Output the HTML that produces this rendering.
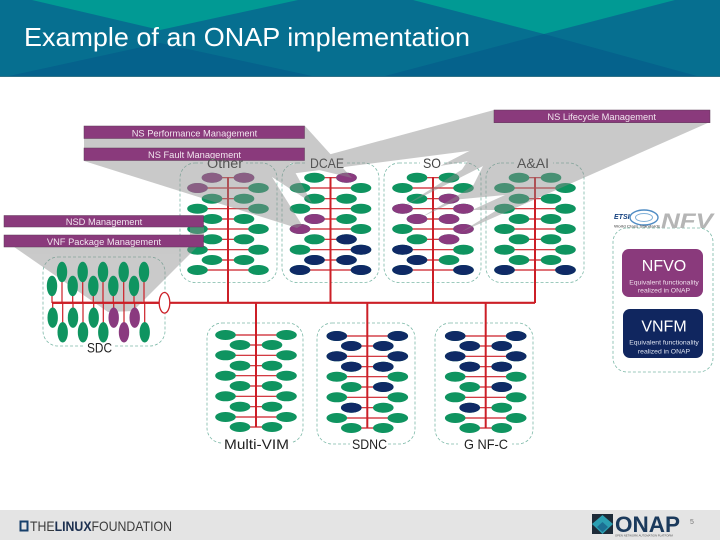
<!DOCTYPE html>
<html><head><meta charset="utf-8"><style>
html,body{margin:0;padding:0;background:#fff}
svg{display:block;font-family:"Liberation Sans",sans-serif}
</style></head><body>
<svg width="720" height="540" viewBox="0 0 720 540" xmlns="http://www.w3.org/2000/svg">
<defs>
<ellipse id="g" rx="10.3" ry="5" fill="#0f9460"/>
<ellipse id="p" rx="10.3" ry="5" fill="#8a3a7f"/>
<ellipse id="n" rx="10.3" ry="5" fill="#0f2a66"/>
<ellipse id="vg" rx="5.2" ry="10.2" fill="#0f9460"/>
<ellipse id="vp" rx="5.2" ry="10.2" fill="#8a3a7f"/>
<g id="top">
<path d="M-16 177.7H16M-30 188H30M-16 198.7H16M-30 208.7H30M-16 219H16M-30 229H30M-16 239.3H16M-30 249.7H30M-16 260H16M-30 270H30" stroke="#cc1f27" stroke-width="1.2" fill="none"/>
<path d="M0 177V303" stroke="#cc1f27" stroke-width="2" fill="none"/>
<use href="#g" x="-16" y="177.7"/><use href="#g" x="16" y="177.7"/>
<use href="#g" x="-30.5" y="188"/><use href="#g" x="30.5" y="188"/>
<use href="#g" x="-16" y="198.7"/><use href="#g" x="16" y="198.7"/>
<use href="#g" x="-30.5" y="208.7"/><use href="#g" x="30.5" y="208.7"/>
<use href="#g" x="-16" y="219"/><use href="#g" x="16" y="219"/>
<use href="#g" x="-30.5" y="229"/><use href="#g" x="30.5" y="229"/>
<use href="#g" x="-16" y="239.3"/><use href="#g" x="16" y="239.3"/>
<use href="#g" x="-30.5" y="249.7"/><use href="#g" x="30.5" y="249.7"/>
<use href="#g" x="-16" y="260"/><use href="#g" x="16" y="260"/>
<use href="#g" x="-30.5" y="270"/><use href="#g" x="30.5" y="270"/>
</g>
<g id="bot">
<path d="M-30 336H30M-16 346H16M-30 356.3H30M-16 366.7H16M-30 376.7H30M-16 387H16M-30 397.3H30M-16 407.7H16M-30 418H30M-16 428H16" stroke="#cc1f27" stroke-width="1.2" fill="none"/>
<path d="M0 303V428" stroke="#cc1f27" stroke-width="2" fill="none"/>
<use href="#g" x="-30.5" y="336"/><use href="#g" x="30.5" y="336"/>
<use href="#g" x="-16" y="346"/><use href="#g" x="16" y="346"/>
<use href="#g" x="-30.5" y="356.3"/><use href="#g" x="30.5" y="356.3"/>
<use href="#g" x="-16" y="366.7"/><use href="#g" x="16" y="366.7"/>
<use href="#g" x="-30.5" y="376.7"/><use href="#g" x="30.5" y="376.7"/>
<use href="#g" x="-16" y="387"/><use href="#g" x="16" y="387"/>
<use href="#g" x="-30.5" y="397.3"/><use href="#g" x="30.5" y="397.3"/>
<use href="#g" x="-16" y="407.7"/><use href="#g" x="16" y="407.7"/>
<use href="#g" x="-30.5" y="418"/><use href="#g" x="30.5" y="418"/>
<use href="#g" x="-16" y="428"/><use href="#g" x="16" y="428"/>
</g>
</defs>

<rect width="720" height="540" fill="#fff"/>

<!-- header -->
<rect width="720" height="77" fill="#066f90"/>
<polygon points="32,0 298,0 160,30" fill="#019a94"/>
<polygon points="413,0 675,0 544,34" fill="#019a94"/>
<polygon points="9,76 312,76 160,43" fill="#05628c"/>
<polygon points="385,76 697,76 544,34" fill="#05628c"/>
<rect y="76" width="720" height="1" fill="#2f7288"/>
<text x="24" y="46" font-size="26" fill="#fff" textLength="446" lengthAdjust="spacingAndGlyphs">Example of an ONAP implementation</text>

<!-- dashed boxes -->
<g fill="none" stroke="#7db9a8" stroke-width=".8" stroke-dasharray="3 2">
<rect x="180" y="163" width="97" height="119.5" rx="15"/>
<rect x="282" y="163" width="97" height="119.5" rx="15"/>
<rect x="384" y="163" width="97" height="119.5" rx="15"/>
<rect x="486" y="163" width="98" height="119.5" rx="15"/>
<rect x="43" y="257" width="122" height="89" rx="15"/>
<rect x="207" y="323" width="96" height="120" rx="15"/>
<rect x="317" y="323" width="98" height="121" rx="15"/>
<rect x="435" y="323" width="98" height="121" rx="15"/>
<rect x="613" y="228" width="100" height="144" rx="14"/>
</g>
<g fill="#fff">
<rect x="204" y="158" width="42" height="10"/>
<rect x="307" y="158" width="40" height="10"/>
<rect x="420" y="158" width="24" height="10"/>
<rect x="515" y="158" width="38" height="10"/>
<rect x="85" y="340" width="30" height="12"/>
<rect x="222" y="438" width="70" height="12"/>
<rect x="350" y="438" width="38" height="12"/>
<rect x="458" y="438" width="54" height="12"/>
</g>

<!-- bus -->
<path d="M52 302.8H535" stroke="#cc1f27" stroke-width="2.2" fill="none"/>

<!-- top clusters -->
<g transform="translate(228 0)"><use href="#top"/>
<use href="#p" x="-16" y="177.7"/><use href="#p" x="16" y="177.7"/><use href="#p" x="-30.5" y="188"/>
</g>
<g transform="translate(330.5 0)"><use href="#top"/>
<use href="#p" x="16" y="177.7"/><use href="#p" x="-16" y="219"/><use href="#p" x="-30.5" y="229"/>
<use href="#n" x="16" y="239.3"/><use href="#n" x="30.5" y="249.7"/><use href="#n" x="-16" y="260"/><use href="#n" x="16" y="260"/><use href="#n" x="-30.5" y="270"/><use href="#n" x="30.5" y="270"/>
</g>
<g transform="translate(433 0)"><use href="#top"/>
<use href="#p" x="16" y="198.7"/><use href="#p" x="-30.5" y="208.7"/><use href="#p" x="30.5" y="208.7"/><use href="#p" x="-16" y="219"/><use href="#p" x="16" y="219"/><use href="#p" x="30.5" y="229"/><use href="#p" x="16" y="239.3"/>
<use href="#n" x="-30.5" y="249.7"/><use href="#n" x="-16" y="260"/><use href="#n" x="-30.5" y="270"/><use href="#n" x="30.5" y="270"/>
</g>
<g transform="translate(535 0)"><use href="#top"/>
<use href="#n" x="-30.5" y="270"/><use href="#n" x="30.5" y="270"/>
</g>

<!-- bottom clusters -->
<g transform="translate(256 -1)"><use href="#bot"/></g>
<g transform="translate(367.3 0)"><use href="#bot"/>
<use href="#n" x="-30.5" y="336"/><use href="#n" x="30.5" y="336"/><use href="#n" x="-16" y="346"/><use href="#n" x="16" y="346"/><use href="#n" x="-30.5" y="356.3"/><use href="#n" x="30.5" y="356.3"/><use href="#n" x="-16" y="366.7"/><use href="#n" x="16" y="366.7"/><use href="#n" x="16" y="387"/><use href="#n" x="-16" y="407.7"/>
</g>
<g transform="translate(485.7 0)"><use href="#bot"/>
<use href="#n" x="-30.5" y="336"/><use href="#n" x="30.5" y="336"/><use href="#n" x="-16" y="346"/><use href="#n" x="16" y="346"/><use href="#n" x="-30.5" y="356.3"/><use href="#n" x="30.5" y="356.3"/><use href="#n" x="-16" y="366.7"/><use href="#n" x="16" y="366.7"/><use href="#n" x="16" y="387"/><use href="#n" x="-16" y="407.7"/>
</g>

<!-- shadows -->
<g fill="#8c8c8c" opacity=".46">
<polygon points="84,138 305,126 352,178 290,163 312,203 272,177 302,225 297,228 84,161"/>
<polygon points="4,240 204,240 133,311 108,312"/>
<polygon points="190,227 204,227 204,236 190,236"/>
<polygon points="494,110 710,120 258,178 250,176"/>
<polygon points="477,147 710,120 440,166"/>
<polygon points="710,122 461,232 497,210 472,210 505,195 452,200 517,155 472,188 488,156 455,180 477,147 560,125"/>
<polygon points="493,150 404,206 495,160"/>
<polygon points="500,170 420,218 503,178"/>
</g>

<!-- SDC (above its shadow) -->
<path d="M52 302.8H165" stroke="#cc1f27" stroke-width="2.2" fill="none"/>
<path d="M52 286V303M62 272V303M72.7 286V303M82.7 272V303M93.3 286V303M103 272V303M113.3 286V303M123.7 272V303M134 286V303M144 272V303M52.7 303V318M62.7 303V332M73 303V318M83 303V332M93.7 303V318M103.3 303V332M113.7 303V318M124 303V332M134.7 303V318M144.7 303V332" stroke="#cc1f27" stroke-width="1.2" fill="none"/>
<use href="#vg" x="52" y="286"/><use href="#vg" x="62" y="272"/><use href="#vg" x="72.7" y="286"/><use href="#vg" x="82.7" y="272"/><use href="#vg" x="93.3" y="286"/><use href="#vg" x="103" y="272"/><use href="#vg" x="113.3" y="286"/><use href="#vg" x="123.7" y="272"/><use href="#vg" x="134" y="286"/><use href="#vg" x="144" y="272"/>
<use href="#vg" x="52.7" y="317.7"/><use href="#vg" x="62.7" y="332.3"/><use href="#vg" x="73" y="317.7"/><use href="#vg" x="83" y="332.3"/><use href="#vg" x="93.7" y="317.7"/><use href="#vg" x="103.3" y="332.3"/><use href="#vp" x="113.7" y="317.7"/><use href="#vp" x="124" y="332.3"/><use href="#vp" x="134.7" y="317.7"/><use href="#vg" x="144.7" y="332.3"/>
<ellipse cx="164.5" cy="302.8" rx="5.3" ry="10.3" fill="#fff" stroke="#cc1f27" stroke-width="1.3"/>

<!-- bars -->
<g fill="#8a3a7c" stroke="#5e3a58" stroke-width=".5">
<rect x="84" y="126" width="220.5" height="12.5"/>
<rect x="84" y="148" width="220.5" height="12.5"/>
<rect x="4" y="215.5" width="199.5" height="11.5"/>
<rect x="4" y="235" width="199.5" height="12"/>
<rect x="494" y="110" width="216" height="12.7"/>
</g>
<g fill="#f2e6ef" font-size="9.3" text-anchor="middle">
<text x="194.5" y="136.5">NS Performance Management</text>
<text x="194.5" y="158.2">NS Fault Management</text>
<text x="104" y="224.8">NSD Management</text>
<text x="104" y="244.8">VNF Package Management</text>
<text x="601.7" y="120">NS Lifecycle Management</text>
</g>

<!-- labels -->
<g font-size="14" fill="#444">
<text x="207" y="168" fill="#555" textLength="36" lengthAdjust="spacingAndGlyphs">Other</text>
<text x="310" y="168" fill="#555" textLength="34" lengthAdjust="spacingAndGlyphs">DCAE</text>
<text x="423" y="168" textLength="18" lengthAdjust="spacingAndGlyphs">SO</text>
<text x="517" y="168" fill="#555" textLength="32" lengthAdjust="spacingAndGlyphs">A&amp;AI</text>
<text x="87" y="352.5" fill="#222" textLength="25" lengthAdjust="spacingAndGlyphs">SDC</text>
<text x="224" y="449" fill="#222" textLength="65" lengthAdjust="spacingAndGlyphs">Multi-VIM</text>
<text x="352" y="449" fill="#222" textLength="35" lengthAdjust="spacingAndGlyphs">SDNC</text>
<text x="464" y="449" fill="#222" textLength="44" lengthAdjust="spacingAndGlyphs">G NF-C</text>
</g>

<!-- NFV panel -->
<rect x="622" y="249" width="81" height="48" rx="7" fill="#8a3a7c"/>
<rect x="623" y="309" width="80" height="49" rx="7" fill="#10265f"/>
<g fill="#fff" text-anchor="middle">
<text x="664" y="271" font-size="16">NFVO</text>
<text x="664" y="284.5" font-size="6.8" fill="#f0dfec">Equivalent functionality</text>
<text x="664" y="292.5" font-size="6.8" fill="#f0dfec">realized in ONAP</text>
<text x="664" y="331.5" font-size="16">VNFM</text>
<text x="664" y="344.5" font-size="6.8" fill="#dfe4f0">Equivalent functionality</text>
<text x="664" y="353.5" font-size="6.8" fill="#dfe4f0">realized in ONAP</text>
</g>
<text x="614" y="219" font-size="7" font-weight="bold" font-style="italic" fill="#14407f">ETSI</text>
<ellipse cx="644" cy="217.5" rx="14" ry="7.5" fill="none" stroke="#4f8cc4" stroke-width="1.4"/>
<ellipse cx="644" cy="217.5" rx="8.5" ry="4" fill="none" stroke="#7fb0d8" stroke-width="1"/>
<text x="614" y="227.5" font-size="4" fill="#333" textLength="46" lengthAdjust="spacingAndGlyphs">World Class Standards</text>
<text x="661" y="228" font-size="21" font-weight="bold" font-style="italic" fill="#b5b5b5" textLength="52" lengthAdjust="spacingAndGlyphs">NFV</text>

<!-- footer -->
<rect y="510" width="720" height="30" fill="#e4e4e4"/>
<rect x="20.5" y="521.5" width="7" height="9" fill="none" stroke="#17406b" stroke-width="2"/>
<text x="30" y="531" font-size="14" fill="#3b3b3b" textLength="142" lengthAdjust="spacingAndGlyphs"><tspan font-weight="normal">THE</tspan><tspan font-weight="bold" fill="#1c2f4f">LINUX</tspan><tspan>FOUNDATION</tspan></text>
<polygon points="592,514 613,514 613,534 592,534" fill="#1d2b38"/>
<polygon points="602.5,515 613,524 602.5,534 592,524" fill="#2b9fb2"/>
<polygon points="602.5,522 608,527 602.5,532 597,527" fill="#1c6f93"/>
<text x="615" y="532" font-size="22" font-weight="bold" fill="#1b3a5c" textLength="65" lengthAdjust="spacingAndGlyphs">ONAP</text>
<text x="615" y="536.5" font-size="2.8" fill="#555">OPEN NETWORK AUTOMATION PLATFORM</text>
<text x="690" y="524" font-size="7" fill="#777">5</text>
</svg>
</body></html>
